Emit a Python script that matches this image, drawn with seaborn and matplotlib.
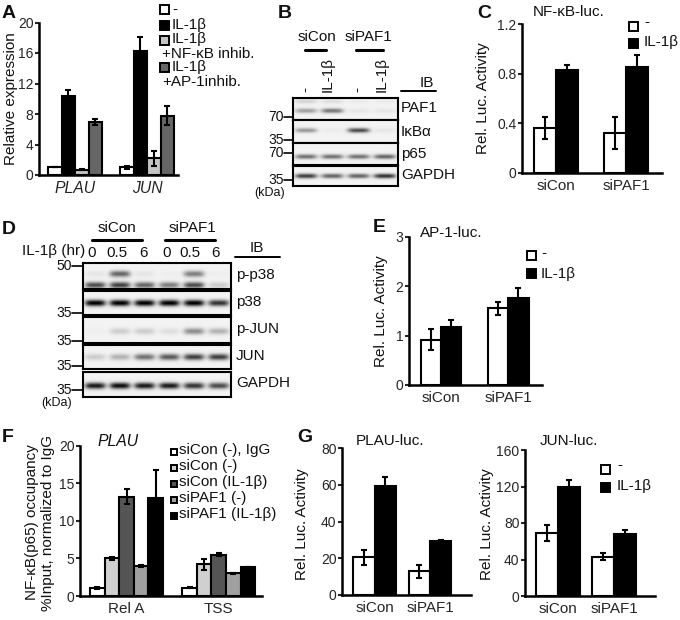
import numpy as np
import pandas as pd
import matplotlib
matplotlib.use("Agg")
import matplotlib.pyplot as plt
from matplotlib.patches import Rectangle
import seaborn as sns

W, H = 680, 620

# panel A
a_genes = ["PLAU", "JUN"]
a_treat = ["-", "IL-1β", "IL-1β +NF-κB", "IL-1β +AP-1"]
a_vals = [[1.0, 1.0], [10.3, 16.2], [0.7, 2.2], [7.0, 7.8]]
a_errs = [[0.0, 0.2], [0.8, 1.9], [0.1, 1.0], [0.4, 1.2]]
a_colors = ["white", "black", "#c4c4c4", "#666666"]

# luciferase panels, order is (siCon, siPAF1)
si_groups = ["siCon", "siPAF1"]
treat2 = ["-", "IL-1β"]
colors2 = ["white", "black"]
c_vals = [[0.36, 0.32], [0.83, 0.85]]
c_errs = [[0.09, 0.13], [0.04, 0.10]]
e_vals = [[0.92, 1.55], [1.18, 1.77]]
e_errs = [[0.21, 0.13], [0.14, 0.20]]
g1_vals = [[20.5, 13.0], [59.5, 29.5]]
g1_errs = [[4.0, 3.5], [4.5, 0.3]]
g2_vals = [[69, 43], [120, 67.5]]
g2_errs = [[9, 4], [7, 5]]

# panel F
f_sites = ["Rel A", "TSS"]
f_treat = ["siCon (-), IgG", "siCon (-)", "siCon (IL-1β)", "siPAF1 (-)", "siPAF1 (IL-1β)"]
f_vals = [[1.1, 1.1], [5.0, 4.2], [13.2, 5.5], [4.0, 3.0], [13.0, 3.8]]
f_errs = [[0.15, 0.1], [0.2, 0.7], [1.0, 0.2], [0.15, 0.1], [3.7, 0.0]]
f_colors = ["white", "#d0d0d0", "#555555", "#a0a0a0", "black"]

# blot band strengths per lane: (name, top, bottom, [(band height, lanes), ...])
blot_b = [
    ("PAF1", 98, 120, [(0.58, [0.32, 0.48, 0.05, 0.05]), (0.15, [0.12, 0.08, 0.03, 0.03])]),
    ("IκBα", 120, 143, [(0.45, [0.35, 0.03, 0.65, 0.05])]),
    ("p65", 143, 165, [(0.62, [0.5, 0.5, 0.5, 0.55])]),
    ("GAPDH", 166, 186, [(0.5, [0.7, 0.55, 0.55, 0.75])]),
]
blot_d = [
    ("p-p38", 263, 289, [(0.42, [0.05, 0.55, 0.05, 0.02, 0.45, 0.02]),
                         (0.85, [0.65, 0.7, 0.55, 0.45, 0.65, 0.15])]),
    ("p38", 291, 315, [(0.5, [0.95, 0.95, 0.95, 0.95, 0.95, 0.75])]),
    ("p-JUN", 317, 343, [(0.55, [0.02, 0.15, 0.15, 0.08, 0.4, 0.25])]),
    ("JUN", 345, 369, [(0.5, [0.15, 0.25, 0.5, 0.6, 0.7, 0.7])]),
    ("GAPDH", 372, 397, [(0.55, [0.85, 0.9, 0.85, 0.85, 0.75, 0.65])]),
]

sns.set_theme(style="white")
plt.rcParams["font.family"] = ["Liberation Sans", "DejaVu Sans"]
plt.rcParams["font.size"] = 10

fig = plt.figure(figsize=(W / 100, H / 100), dpi=100)

# overlay in pixel coordinates for labels and legends
bg = fig.add_axes([0, 0, 1, 1], zorder=5)
bg.set_xlim(0, W)
bg.set_ylim(H, 0)
bg.axis("off")
bg.patch.set_alpha(0)


def px_axes(x0, x1, ytop, ybot):
    return fig.add_axes([x0 / W, 1 - ybot / H, (x1 - x0) / W, (ybot - ytop) / H])


def txt(x, y, s, size=11, ha="left", va="center", **kw):
    bg.text(x, y, s, fontsize=size, ha=ha, va=va, color="#111111", **kw)


def swatch(x, y, color, size=9):
    bg.add_patch(Rectangle((x, y - size / 2), size, size, facecolor=color,
                           edgecolor="black", linewidth=1.4))


def bar_panel(box, cats, treats, vals, errs, colors, xlim, width, yticks, ylabels,
              ylabel, label_x, italic=False):
    ax = px_axes(*box)
    df = pd.DataFrame({
        "cat": [c for _ in treats for c in cats],
        "treat": [t for t in treats for _ in cats],
        "val": np.ravel(vals),
    })
    sns.barplot(data=df, x="cat", y="val", hue="treat", order=cats, hue_order=treats,
                palette=colors, width=width, saturation=1, errorbar=None, legend=False,
                edgecolor="black", linewidth=1.5, ax=ax)
    for cont, v, e in zip(ax.containers, vals, errs):
        xs = [b.get_x() + b.get_width() / 2 for b in cont]
        ax.errorbar(xs, v, yerr=e, fmt="none", ecolor="black", elinewidth=1.5,
                    capsize=2, capthick=1.5, clip_on=False, zorder=4)
    ax.set_xlim(*xlim)
    ax.set_ylim(yticks[0], yticks[-1])
    ax.set_yticks(yticks)
    ax.set_yticklabels(ylabels, fontsize=10)
    ax.set_xlabel("")
    ax.set_ylabel("")
    ax.set_xticks(range(len(cats)))
    ax.set_xticklabels(cats, fontsize=11.3 if italic else 11,
                       style="italic" if italic else "normal")
    ax.tick_params(axis="y", length=3, width=1.5, pad=1, left=True)
    ax.tick_params(axis="x", length=0, pad=4)
    sns.despine(ax=ax)
    for s in ["left", "bottom"]:
        ax.spines[s].set_linewidth(1.8)
        ax.spines[s].set_color("black")
    ax.patch.set_alpha(0)
    if ylabel:
        txt(label_x, (box[2] + box[3]) / 2, ylabel, ha="center", rotation=90)
    return ax


def blot_panel(rows, x0, x1, n_lanes, lane_w, band_h):
    for name, top, bot, bands in rows:
        ax = px_axes(x0, x1, top, bot)
        nx, ny = x1 - x0, bot - top
        xx = (np.arange(nx) + 0.5) / nx * n_lanes - 0.5
        yy = (np.arange(ny) + 0.5) / ny
        img = np.zeros((ny, nx))
        for pos, lanes in bands:
            for i, strength in enumerate(lanes):
                prof_x = np.exp(-((xx - i) / lane_w) ** 4)
                prof_y = np.exp(-((yy - pos) * ny / band_h) ** 2)
                img += strength * np.outer(prof_y, prof_x)
        sns.heatmap(img + 0.05, cmap="gray_r", vmin=0, vmax=1, cbar=False,
                    xticklabels=False, yticklabels=False, ax=ax)
        for s in ax.spines.values():
            s.set_visible(True)
            s.set_linewidth(1.5)
            s.set_color("black")


# panel letters
for x, y, s in [(2, 14, "A"), (278, 13, "B"), (477, 13, "C"), (2, 229, "D"),
                (373, 228, "E"), (2, 437, "F"), (297, 438, "G")]:
    txt(x, y, s, size=14, fontweight="bold")

# A
bar_panel((39, 178, 22.5, 175), a_genes, a_treat, a_vals, a_errs, a_colors, (-0.5, 1.43), 0.75,
          [0, 4, 8, 12, 16, 20], ["0", "4", "8", "12", "16", "20"],
          "Relative expression", 11, italic=True)
swatch(160, 9, "white")
txt(172, 9, "-")
swatch(160, 25, "black")
txt(172, 25, "IL-1β")
swatch(160, 40, "#c4c4c4")
txt(172, 39, "IL-1β")
txt(162, 54, "+NF-κB inhib.")
swatch(160, 67, "#666666")
txt(172, 67, "IL-1β")
txt(162, 82, "+AP-1inhib.")

# C
bar_panel((522, 662, 24, 173), si_groups, treat2, c_vals, c_errs, colors2, (-0.486, 1.51), 0.62,
          [0, 0.4, 0.8, 1.2], ["0", "0.4", "0.8", "1.2"], "Rel. Luc. Activity", 483)
txt(533, 12, "NF-κB-luc.")
swatch(629, 26, "white")
txt(644, 22, "-")
swatch(629, 43, "black")
txt(644, 42, "IL-1β")

# E
bar_panel((409, 542, 236.7, 385), si_groups, treat2, e_vals, e_errs, colors2, (-0.48, 1.5), 0.6,
          [0, 1, 2, 3], ["0", "1", "2", "3"], "Rel. Luc. Activity", 381)
txt(420, 233, "AP-1-luc.")
swatch(527, 255, "white")
txt(541, 253, "-")
swatch(527, 273, "black")
txt(541, 274, "IL-1β")

# F
bar_panel((80, 262, 445.7, 596), f_sites, f_treat, f_vals, f_errs, f_colors, (-0.505, 1.47), 0.79,
          [0, 5, 10, 15, 20], ["0", "5", "10", "15", "20"], None, 0)
txt(32, 522, "NF-κB(p65) occupancy", ha="center", rotation=90)
txt(48, 523, "%Input, normalized to IgG", ha="center", rotation=90)
txt(98, 442, "PLAU", style="italic", size=11.3)
for i, (name, col) in enumerate(zip(f_treat, f_colors)):
    swatch(170.5, 452 + i * 16, col, size=6.5)
    txt(179, 450 + i * 16, name)

# G
bar_panel((342, 471, 448, 595), si_groups, treat2, g1_vals, g1_errs, colors2, (-0.59, 1.74), 0.77,
          [0, 20, 40, 60, 80], ["0", "20", "40", "60", "80"], None, 0)
txt(302, 524, "Rel. Luc. Activity", ha="center", rotation=90)
txt(356, 441, "PLAU-luc.")
bar_panel((525, 655, 450, 596), si_groups, treat2, g2_vals, g2_errs, colors2, (-0.59, 1.73), 0.78,
          [0, 40, 80, 120, 160], ["0", "40", "80", "120", "160"], None, 0)
txt(487, 524, "Rel. Luc. Activity", ha="center", rotation=90)
txt(540, 441, "JUN-luc.")
swatch(601, 469, "white")
txt(617, 465, "-")
swatch(601, 487, "black")
txt(617, 486, "IL-1β")

# B blot
blot_panel(blot_b, 293, 398, 4, 0.42, 2.4)
txt(317, 37, "siCon", ha="center")
txt(368, 37, "siPAF1", ha="center")
bg.plot([305, 326], [50, 50], color="black", lw=2.2)
bg.plot([356, 383], [50, 50], color="black", lw=2.2)
txt(305, 89, "-", ha="center", rotation=90)
txt(328, 74, "IL-1β", ha="center", rotation=90)
txt(357, 89, "-", ha="center", rotation=90)
txt(382, 74, "IL-1β", ha="center", rotation=90)
txt(420, 83, "IB")
bg.plot([401, 436], [91, 91], color="black", lw=1.4)
for name, y in [("PAF1", 108), ("IκBα", 132), ("p65", 154), ("GAPDH", 175)]:
    txt(401, y, name)
for s, y in [("70", 117), ("35", 140), ("70", 153), ("35", 180)]:
    txt(284, y, s, ha="right", size=10)
    bg.plot([284, 293], [y, y], color="black", lw=1.2)
txt(254, 193, "(kDa)", size=9)

# D blot
blot_panel(blot_d, 83, 231, 6, 0.42, 3.2)
txt(117, 228, "siCon", ha="center")
txt(192, 228, "siPAF1", ha="center")
bg.plot([92, 142], [240, 240], color="black", lw=2.2)
bg.plot([165, 215], [240, 240], color="black", lw=2.2)
txt(22, 251, "IL-1β (hr)")
for x, s in zip([92, 117, 143, 167, 190, 216], ["0", "0.5", "6", "0", "0.5", "6"]):
    txt(x, 253, s, ha="center")
txt(257, 248, "IB", ha="center")
bg.plot([235, 280], [257, 257], color="black", lw=1.4)
for name, y in [("p-p38", 275), ("p38", 302), ("p-JUN", 329), ("JUN", 356), ("GAPDH", 383)]:
    txt(236, y, name)
for s, y in [("50", 266), ("35", 313), ("35", 341), ("35", 366), ("35", 390)]:
    txt(72, y, s, ha="right", size=10)
    bg.plot([72, 83], [y, y], color="black", lw=1.2)
txt(41, 403, "(kDa)", size=9)

fig.savefig("out.png", dpi=100, facecolor="white")
